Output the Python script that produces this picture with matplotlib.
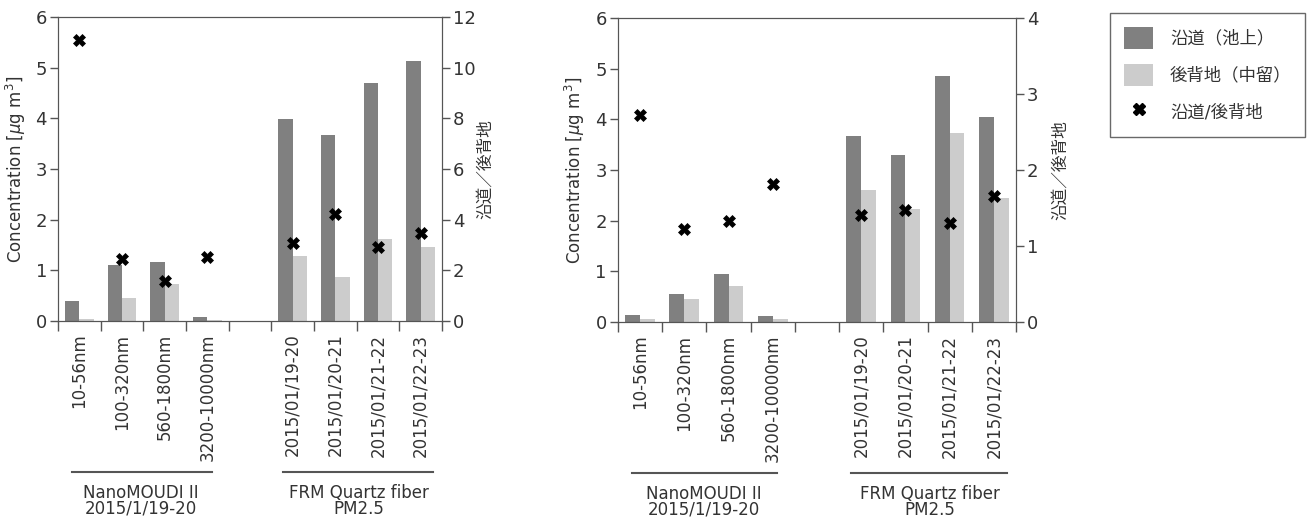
import matplotlib
matplotlib.use('Agg')
from matplotlib import pyplot as plt
from matplotlib.patches import Patch
from matplotlib.lines import Line2D
import numpy as np

plt.rcParams['font.family'] = ['DejaVu Sans', 'Noto Sans CJK JP']

size_labels = ['10-56nm', '100-320nm', '560-1800nm', '3200-10000nm']
date_labels = ['2015/01/19-20', '2015/01/20-21', '2015/01/21-22', '2015/01/22-23']
categories = size_labels + [''] + date_labels

# left panel (scale 0-12 on ratio axis)
left_road = [0.39, 1.11, 1.16, 0.07, np.nan, 3.99, 3.68, 4.69, 5.13]
left_back = [0.035, 0.45, 0.73, 0.028, np.nan, 1.29, 0.87, 1.61, 1.47]
left_ratio = [11.09, 2.46, 1.57, 2.54, np.nan, 3.08, 4.22, 2.92, 3.47]

# right panel (scale 0-4 on ratio axis)
right_road = [0.145, 0.56, 0.95, 0.12, np.nan, 3.67, 3.29, 4.85, 4.04]
right_back = [0.053, 0.46, 0.72, 0.066, np.nan, 2.61, 2.23, 3.74, 2.44]
right_ratio = [2.72, 1.22, 1.33, 1.81, np.nan, 1.41, 1.47, 1.30, 1.66]

group_names = ['NanoMOUDI II\n2015/1/19-20', 'FRM Quartz fiber\nPM2.5']
legend_labels = ['沿道（池上）', '後背地（中留）', '沿道/後背地']

dark = '#808080'
light = '#cccccc'
axcol = '#555555'
txtcol = '#333333'


def draw_panel(rect, road, back, ratio, rmax, rticks):
    ax = fig.add_axes(rect)
    x = np.arange(len(categories))
    w = 0.335
    ax.bar(x - w / 2, road, w, color=dark)
    ax.bar(x + w / 2, back, w, color=light)
    ax.set_xlim(-0.5, len(categories) - 0.5)
    ax.set_ylim(0, 6)
    ax.set_yticks(range(0, 7))
    ax.set_xticks(x)
    ax.set_xticklabels(categories, rotation=90, fontsize=12, color=txtcol)
    ax.set_xticks(np.arange(-0.5, len(categories)), minor=True)
    ax.tick_params(axis='x', which='major', length=0, pad=9)
    ax.tick_params(axis='x', which='minor', length=7, width=1, color=axcol)
    ax.tick_params(axis='y', length=6, width=1, color=axcol, labelsize=13,
                   labelcolor=txtcol, pad=2)
    ax.set_ylabel('Concentration [$\\mu$g m$^3$]', fontsize=12, color=txtcol)
    ax.yaxis.set_label_coords(-0.078, 0.5)
    for s in ax.spines.values():
        s.set_color(axcol)

    ax2 = ax.twinx()
    ax2.plot(x, ratio, 'X', color='black', markersize=8.5, markeredgewidth=0.5)
    ax2.set_ylim(0, rmax)
    ax2.set_yticks(rticks)
    ax2.tick_params(axis='y', length=6, width=1, color=axcol, labelsize=13,
                    labelcolor=txtcol, pad=2)
    ax2.set_ylabel('沿道／後背地', fontsize=12, color=txtcol)
    ax2.yaxis.set_label_coords(1.088, 0.5)
    for s in ax2.spines.values():
        s.set_color(axcol)

    # group brackets under the tick labels
    tr = ax.get_xaxis_transform()
    spans = [(-0.18, 3.1), (4.78, 8.3)]
    centers = [1.45, 6.55]
    for (a, b), c, name in zip(spans, centers, group_names):
        ax.plot([a, b], [-0.495, -0.495], color=axcol, lw=1.5, transform=tr,
                clip_on=False)
        ax.text(c, -0.535, name, transform=tr, ha='center', va='top',
                fontsize=12, color=txtcol, linespacing=0.85)
    return ax


fig = plt.figure(figsize=(13.12, 5.23), dpi=100)
draw_panel([0.0442, 0.3862, 0.2927, 0.5813], left_road, left_back, left_ratio,
           12, range(0, 13, 2))
draw_panel([0.4710, 0.3843, 0.3034, 0.5813], right_road, right_back, right_ratio,
           4, range(0, 5))

handles = [Patch(facecolor=dark), Patch(facecolor=light),
           Line2D([], [], marker='X', color='black', linestyle='none', markersize=8)]
leg = fig.legend(handles, legend_labels, loc='upper left',
                 bbox_to_anchor=(1110 / 1312, 1 - 13 / 523), fontsize=12.5,
                 frameon=True, fancybox=False, edgecolor='#444444',
                 handlelength=1.7, handleheight=1.6, labelspacing=0.85,
                 borderpad=0.8, handletextpad=0.95, borderaxespad=0)
leg.get_frame().set_linewidth(1.0)
for t in leg.get_texts():
    t.set_color(txtcol)

plt.savefig('out.png', dpi=100)
plt.close()
